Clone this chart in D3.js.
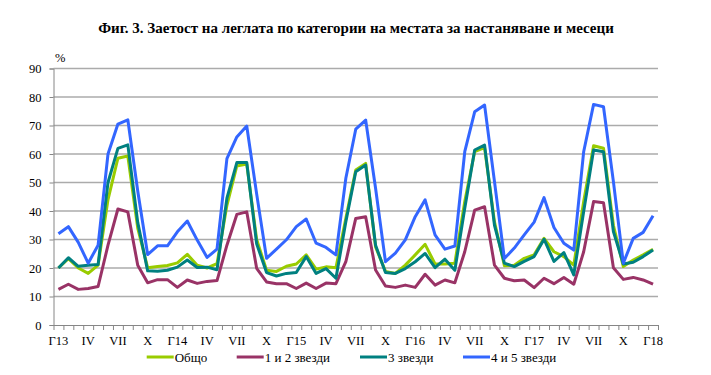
<!DOCTYPE html>
<html>
<head>
<meta charset="utf-8">
<script src="https://cdn.jsdelivr.net/npm/d3@7"></script>
<style>
  body { margin: 0; background: #fff; }
  svg text { font-family: "Liberation Serif", "Times New Roman", serif; fill: #000; }
</style>
</head>
<body>
<svg id="chart" width="711" height="375"></svg>
<script>
// month labels: Г = January, then April, July, October
var years = ["13", "14", "15", "16", "17", "18"];
var quarterNames = ["Г", "IV", "VII", "X"];

var seriesNames = ["Общо", "1 и 2 звезди", "3 звезди", "4 и 5 звезди"];
var seriesColors = ["#99cc00", "#993366", "#008080", "#3366ff"];

var total = [
    20, 23.3, 20, 18.1, 21, 44, 58.5, 59.3, 34, 20.1, 20.5, 20.9,
    21.8, 24.8, 21, 20, 21.5, 42, 55.8, 56.5, 30, 19.2, 18.8, 20.6,
    21.4, 24.6, 19.6, 20.4, 20.1, 37.4, 54.4, 56.7, 27.4, 18.8, 18.1, 21,
    24.6, 28.3, 21.4, 21.4, 21.7, 43.3, 60.8, 62.2, 36.2, 20.8, 21, 23.4,
    24.6, 30.4, 25.7, 24, 21, 43.3, 62.9, 62, 35, 20.5, 22.8, 24.6,
    26.6];
var stars12 = [
    12.5, 14.3, 12.5, 12.8, 13.5, 28, 40.7, 39.7, 21, 14.8, 15.9, 15.9,
    13.2, 15.8, 14.6, 15.3, 15.6, 28, 38.8, 39.7, 19.9, 15.1, 14.5, 14.5,
    12.8, 14.7, 12.8, 14.7, 14.5, 22.2, 37.4, 38, 19.3, 13.7, 13.2, 14,
    13.2, 17.8, 14, 15.8, 14.8, 25.7, 40.3, 41.5, 21, 16.4, 15.5, 15.8,
    13.1, 16.4, 14.5, 16.7, 14.3, 25.7, 43.3, 42.9, 20.1, 16, 16.7, 15.8,
    14.3];
var stars3 = [
    20, 23.6, 20.6, 21, 21.2, 50, 62, 63.2, 36, 19, 18.9, 19.2,
    20.3, 22.8, 20.2, 20.3, 19.4, 44.5, 57, 57, 28.5, 18.4, 17.2, 18.1,
    18.4, 24, 18.1, 19.8, 16.4, 36.2, 53.8, 56.1, 28, 18.4, 18.1, 19.8,
    22.2, 25.1, 20.1, 23.1, 19.2, 41, 61.4, 63.1, 35, 21.7, 20.5, 22.3,
    24, 30.1, 22.3, 25.4, 17.6, 39.8, 61.4, 60.8, 32.8, 21.4, 22, 24,
    26.3];
var stars45 = [
    32, 34.5, 29, 21.7, 28, 60, 70.5, 72, 47, 24.7, 27.8, 27.8,
    32.7, 36.5, 29.8, 23.7, 26.6, 58.4, 66, 69.8, 46, 23.4, 26.6, 29.9,
    34.5, 37.2, 28.7, 27.2, 24.6, 51.5, 68.7, 71.9, 48, 22.2, 25.2, 29.9,
    38, 43.9, 31.6, 26.6, 27.7, 60.8, 74.8, 77.2, 50.3, 23.3, 27, 31.6,
    36.1, 44.7, 34.2, 28.7, 26.3, 60.8, 77.4, 76.6, 50.3, 21.7, 30.4, 32.5,
    38.3];
var yTicks = [0, 10, 20, 30, 40, 50, 60, 70, 80, 90];

// 61 months, Jan 2013 .. Jan 2018; label every third month
var months = [];
years.forEach(function (yr, k) {
    var n = (k == years.length - 1) ? 1 : 12;
    for (var m = 0; m < n; m++) {
        var lab = "";
        if (m % 3 == 0) lab = (m == 0) ? quarterNames[0] + yr : quarterNames[m / 3];
        months.push(lab);
    }
});

var allSeries = [total, stars12, stars3, stars45];

var svg = d3.select("#chart");
var plotL = 53.5, plotR = 658, plotT = 68.5, plotB = 325;

var x = d3.scaleLinear().domain([0, months.length]).range([plotL, plotR]);
var y = d3.scaleLinear().domain([0, 90]).range([plotB, plotT]);

svg.append("text")
    .attr("x", 356).attr("y", 33)
    .attr("text-anchor", "middle")
    .style("font-size", "15px").style("font-weight", "bold")
    .text("Фиг. 3. Заетост на леглата по категории на местата за настаняване и месеци");

svg.append("text")
    .attr("x", 55).attr("y", 62)
    .style("font-size", "12.5px")
    .text("%");

// gridlines
svg.append("g").selectAll("line")
    .data(yTicks.filter(function (d) { return d > 0; }))
    .enter().append("line")
    .attr("x1", plotL).attr("x2", plotR)
    .attr("y1", function (d) { return y(d); })
    .attr("y2", function (d) { return y(d); })
    .attr("stroke", "#ababab").attr("stroke-width", 1.5);

// y axis
var yAxis = svg.append("g")
    .attr("transform", "translate(" + plotL + ",0)")
    .call(d3.axisLeft(y).tickValues(yTicks).tickSize(4).tickPadding(8));
yAxis.select(".domain").attr("stroke", "#868686");
yAxis.selectAll(".tick line").attr("stroke", "#868686");
yAxis.selectAll("text").style("font-size", "12.5px").style("font-family", "Liberation Serif");

// x axis: ticks at month boundaries
var xAxis = svg.append("g")
    .attr("transform", "translate(0," + plotB + ")")
    .call(d3.axisBottom(x).tickValues(d3.range(months.length + 1)).tickSize(5).tickFormat("").tickSizeOuter(0));
xAxis.select(".domain").attr("stroke", "#868686");
xAxis.selectAll(".tick line").attr("stroke", "#868686");

svg.append("g").selectAll("text")
    .data(months)
    .enter().append("text")
    .attr("x", function (d, i) { return x(i + 0.5); })
    .attr("y", 345)
    .attr("text-anchor", "middle")
    .style("font-size", "12.5px")
    .text(function (d) { return d; });

var line = d3.line()
    .x(function (d, i) { return x(i + 0.5); })
    .y(function (d) { return y(d); });

allSeries.forEach(function (s, k) {
    svg.append("path")
        .datum(s)
        .attr("d", line)
        .attr("fill", "none")
        .attr("stroke", seriesColors[k])
        .attr("stroke-width", 3)
        .attr("stroke-linejoin", "round");
});

// legend
var legendX = [146.7, 236.7, 360, 463];
var lg = svg.append("g");
seriesNames.forEach(function (name, k) {
    lg.append("line")
        .attr("x1", legendX[k]).attr("x2", legendX[k] + 27)
        .attr("y1", 357).attr("y2", 357)
        .attr("stroke", seriesColors[k]).attr("stroke-width", 3);
    lg.append("text")
        .attr("x", legendX[k] + 28).attr("y", 361.5)
        .style("font-size", "13px")
        .text(name);
});
</script>
</body>
</html>
